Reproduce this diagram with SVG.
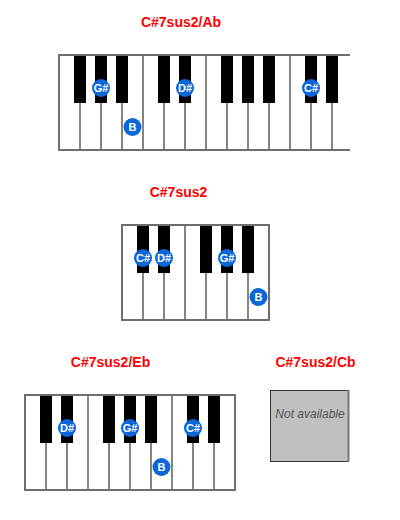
<svg xmlns="http://www.w3.org/2000/svg" width="400" height="520" viewBox="0 0 400 520">
<style>
.title{font-family:"Liberation Sans",Arial,sans-serif;font-weight:bold;font-size:14px;fill:#ff0000;text-anchor:middle}
.frame{stroke:#6e6e6e;stroke-width:2;fill:none}
.div{stroke:#333;stroke-width:1.2}
.blk{fill:#000}
.dot{fill:#0b66d8}
.lbl{font-family:"Liberation Sans",Arial,sans-serif;font-weight:bold;font-size:11px;fill:#fff;text-anchor:middle}
.na{font-family:"Liberation Sans",Arial,sans-serif;font-style:italic;font-size:12px;fill:#555;text-anchor:middle}
</style>
<rect width="400" height="520" fill="#fff"/>

<g id="chord-ab">
<text class="title" x="181" y="27">C#7sus2/Ab</text>
<rect x="59" y="55" width="291" height="95" fill="#fff"/>
<g class="div">
<line x1="80" y1="55" x2="80" y2="150"/><line x1="101" y1="55" x2="101" y2="150"/><line x1="122" y1="55" x2="122" y2="150"/>
<line x1="143" y1="55" x2="143" y2="150"/><line x1="164" y1="55" x2="164" y2="150"/><line x1="185" y1="55" x2="185" y2="150"/>
<line x1="206" y1="55" x2="206" y2="150"/><line x1="227" y1="55" x2="227" y2="150"/><line x1="248" y1="55" x2="248" y2="150"/>
<line x1="269" y1="55" x2="269" y2="150"/><line x1="290" y1="55" x2="290" y2="150"/><line x1="311" y1="55" x2="311" y2="150"/>
<line x1="332" y1="55" x2="332" y2="150"/>
</g>
<g class="blk">
<rect x="74" y="55" width="12" height="48"/><rect x="95" y="55" width="12" height="48"/><rect x="116" y="55" width="12" height="48"/>
<rect x="158" y="55" width="12" height="48"/><rect x="179" y="55" width="12" height="48"/>
<rect x="221" y="55" width="12" height="48"/><rect x="242" y="55" width="12" height="48"/><rect x="263" y="55" width="12" height="48"/>
<rect x="305" y="55" width="12" height="48"/><rect x="326" y="55" width="12" height="48"/>
</g>
<path class="frame" d="M350 55 H59 V150 H350"/>
<circle class="dot" cx="101" cy="88" r="9"/><text class="lbl" x="101" y="92">G#</text>
<circle class="dot" cx="185" cy="88" r="9"/><text class="lbl" x="185" y="92">D#</text>
<circle class="dot" cx="311" cy="88" r="9"/><text class="lbl" x="311" y="92">C#</text>
<circle class="dot" cx="132.5" cy="127" r="9"/><text class="lbl" x="132.5" y="131">B</text>
</g>

<g id="chord-root">
<text class="title" x="178.5" y="197">C#7sus2</text>
<rect x="122" y="225" width="147" height="95" fill="#fff"/>
<g class="div">
<line x1="143" y1="225" x2="143" y2="320"/><line x1="164" y1="225" x2="164" y2="320"/><line x1="185" y1="225" x2="185" y2="320"/>
<line x1="206" y1="225" x2="206" y2="320"/><line x1="227" y1="225" x2="227" y2="320"/><line x1="248" y1="225" x2="248" y2="320"/>
</g>
<g class="blk">
<rect x="137" y="225" width="12" height="48"/><rect x="158" y="225" width="12" height="48"/>
<rect x="200" y="225" width="12" height="48"/><rect x="221" y="225" width="12" height="48"/><rect x="242" y="225" width="12" height="48"/>
</g>
<rect class="frame" x="122" y="225" width="147" height="95"/>
<circle class="dot" cx="143" cy="258" r="9"/><text class="lbl" x="143" y="262">C#</text>
<circle class="dot" cx="164" cy="258" r="9"/><text class="lbl" x="164" y="262">D#</text>
<circle class="dot" cx="227" cy="258" r="9"/><text class="lbl" x="227" y="262">G#</text>
<circle class="dot" cx="258.5" cy="297" r="9"/><text class="lbl" x="258.5" y="301">B</text>
</g>

<g id="chord-eb">
<text class="title" x="110.5" y="367">C#7sus2/Eb</text>
<rect x="25" y="395" width="210" height="95" fill="#fff"/>
<g class="div">
<line x1="46" y1="395" x2="46" y2="490"/><line x1="67" y1="395" x2="67" y2="490"/><line x1="88" y1="395" x2="88" y2="490"/>
<line x1="109" y1="395" x2="109" y2="490"/><line x1="130" y1="395" x2="130" y2="490"/><line x1="151" y1="395" x2="151" y2="490"/>
<line x1="172" y1="395" x2="172" y2="490"/><line x1="193" y1="395" x2="193" y2="490"/><line x1="214" y1="395" x2="214" y2="490"/>
</g>
<g class="blk">
<rect x="40" y="395" width="12" height="48"/><rect x="61" y="395" width="12" height="48"/>
<rect x="103" y="395" width="12" height="48"/><rect x="124" y="395" width="12" height="48"/><rect x="145" y="395" width="12" height="48"/>
<rect x="187" y="395" width="12" height="48"/><rect x="208" y="395" width="12" height="48"/>
</g>
<rect class="frame" x="25" y="395" width="210" height="95"/>
<circle class="dot" cx="67" cy="428" r="9"/><text class="lbl" x="67" y="432">D#</text>
<circle class="dot" cx="130" cy="428" r="9"/><text class="lbl" x="130" y="432">G#</text>
<circle class="dot" cx="193" cy="428" r="9"/><text class="lbl" x="193" y="432">C#</text>
<circle class="dot" cx="161.5" cy="467" r="9"/><text class="lbl" x="161.5" y="471">B</text>
</g>

<g id="chord-cb">
<text class="title" x="315.5" y="367">C#7sus2/Cb</text>
<rect x="270.5" y="390.5" width="78" height="71" fill="#c0c0c0" stroke="#333" stroke-width="1"/>
<line x1="348.5" y1="390" x2="348.5" y2="462" stroke="#777" stroke-width="2"/>
<text class="na" x="310" y="418">Not available</text>
</g>
</svg>
